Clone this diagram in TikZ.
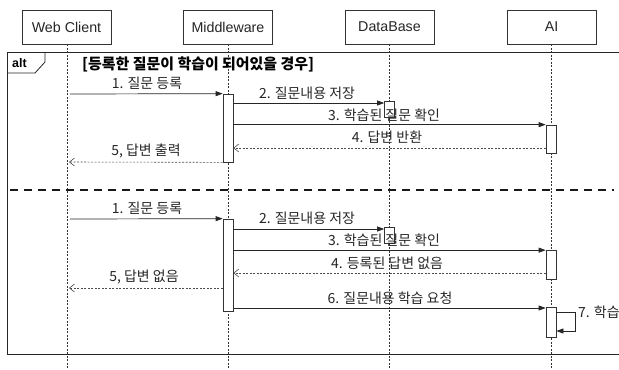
\documentclass[tikz,border=0pt]{standalone}
\usepackage{fontspec}
\setmainfont{Liberation Sans}
\newfontfamily\kr{Noto Sans CJK KR}
\usetikzlibrary{arrows.meta}
\begin{document}
\begin{tikzpicture}[x=1bp,y=-1bp,
  head/.style={draw=black!80, line width=0.6bp, minimum width=89bp, minimum height=34bp, inner sep=0, text=black!85, font=\fontsize{14.3}{15}\selectfont},
  life/.style={draw=black!80, line width=0.5bp, dash pattern=on 2bp off 1.5bp},
  act/.style={draw=black!80, fill=white, line width=0.7bp, minimum width=10bp, inner sep=0},
  msg/.style={draw=black!85, line width=0.7bp, -{Triangle[length=7bp,width=5bp]}},
  ret/.style={draw=black!70, line width=0.6bp, dash pattern=on 2bp off 1.5bp, -{Straight Barb[length=5bp,width=8bp]}},
  lbl/.style={font=\kr\fontsize{14}{15}\selectfont, inner sep=0, text=black!85},
  frm/.style={draw=black!85, line width=0.8bp}
]
\useasboundingbox (0,0) rectangle (619,369);
\fill[white] (0,0) rectangle (619,369);

% heads
\node[head] (wc) at (66.5,27) {Web Client};
\node[head] (mw) at (228,27) {Middleware};
\node[head] (db) at (389.5,27) {DataBase};
\node[head] (ai) at (551.5,27) {AI};

% lifelines
\coordinate (wcE) at (67,369);
\coordinate (mwE) at (228,369);
\coordinate (dbE) at (389.5,369);
\coordinate (aiE) at (551,369);
\draw[life] (wc.south -| wcE) -- (wcE);
\draw[life] (mw.south -| mwE) -- (mwE);
\draw[life] (db.south -| dbE) -- (dbE);
\draw[life] (ai.south -| aiE) -- (aiE);

% frame
\coordinate (fTL) at (7,52);
\coordinate (fTR) at (619,52);
\coordinate (fBL) at (7,354);
\coordinate (fBR) at (619,354);
\draw[frm] (fTR) -- (fTL) -- (fBL) -- (fBR);
\draw[frm] (7,73) -- (35,73) -- (45,62) -- (45,52);
\node[font=\bfseries\fontsize{12.5}{13}\selectfont, inner sep=0] (alt) at (19.5,63) {alt};
\node[font=\kr\bfseries\fontsize{15}{16}\selectfont, inner sep=0, anchor=west] (guard) at (82,64) {[등록한 질문이 학습이 되어있을 경우]};

% separator
\coordinate (sepL) at (10,190);
\coordinate (sepR) at (614,190);
\draw[black!90, line width=2.6bp, dash pattern=on 8bp off 6bp] (sepL) -- (sepR);

% ---- section 1 ----
\node[act, minimum height=68bp] (mwa1) at (228,128) {};
\node[act, minimum height=16bp] (dba1) at (389.5,109) {};
\node[act, minimum height=28bp] (aia1) at (551,139) {};

\coordinate (s1m1) at (70,94);
\draw[msg] (s1m1) -- (mwa1.north west);
\node[lbl] (l11) at (147,83) {1. 질문 등록};

\draw[msg] (mwa1.east |- 0,103) -- (dba1.west |- 0,103);
\node[lbl] (l12) at (307,93) {2. 질문내용 저장};

\draw[msg] (mwa1.east |- aia1.north) -- (aia1.north west);
\node[lbl] (l13) at (384,115) {3. 학습된 질문 확인};

\draw[ret] (aia1.west |- 0,148) -- (mwa1.east |- 0,148);
\node[lbl] (l14) at (387,137) {4. 답변 반환};

\coordinate (s1m5) at (69,162);
\draw[ret] (mwa1.south west) -- (s1m5);
\node[lbl] (l15) at (146,151) {5, 답변 출력};

% ---- section 2 ----
\node[act, minimum height=92bp] (mwa2) at (228,265) {};
\node[act, minimum height=16bp] (dba2) at (389.5,235) {};
\node[act, minimum height=29bp] (aia2) at (551,265) {};
\node[act, minimum height=30bp] (aia3) at (551,322) {};

\coordinate (s2m1) at (70,219);
\draw[msg] (s2m1) -- (mwa2.north west);
\node[lbl] (l21) at (147,208) {1. 질문 등록};

\draw[msg] (mwa2.east |- 0,229) -- (dba2.west |- 0,229);
\node[lbl] (l22) at (307,218) {2. 질문내용 저장};

\draw[msg] (mwa2.east |- aia2.north) -- (aia2.north west);
\node[lbl] (l23) at (384,240) {3. 학습된 질문 확인};

\draw[ret] (aia2.west |- 0,273) -- (mwa2.east |- 0,273);
\node[lbl] (l24) at (387,263) {4. 등록된 답변 없음};

\coordinate (s2m5) at (69,288);
\draw[ret] (mwa2.west |- s2m5) -- (s2m5);
\node[lbl] (l25) at (144,277) {5, 답변 없음};

\draw[msg] (mwa2.east |- 0,308) -- (aia3.west |- 0,308);
\node[lbl] (l26) at (390,298) {6. 질문내용 학습 요청};

\coordinate (selfR) at (575,312);
\draw[msg] (aia3.east |- selfR) -- (selfR) -- (575,331) -- (aia3.east |- 0,331);
\node[lbl, anchor=west] (l27) at (578,312) {7. 학습};
\end{tikzpicture}
\end{document}
